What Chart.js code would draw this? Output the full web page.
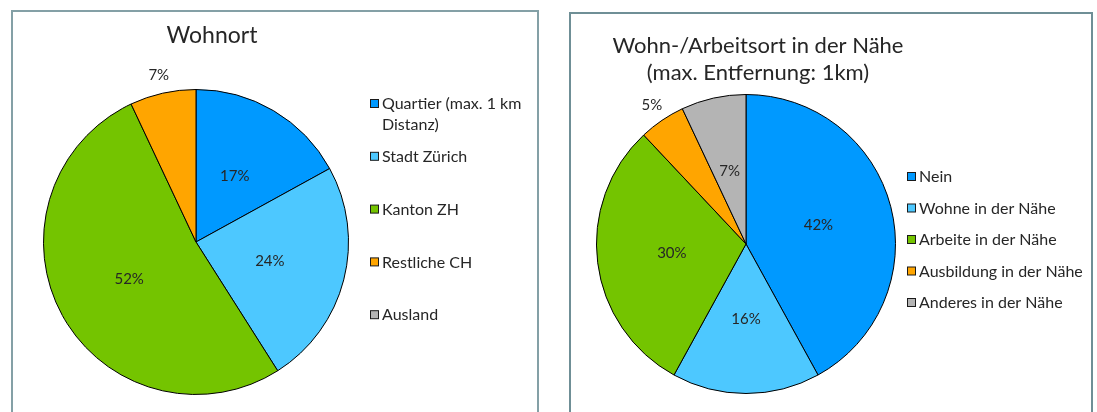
<!DOCTYPE html>
<html>
<head>
<meta charset="utf-8">
<script src="https://cdn.jsdelivr.net/npm/chart.js@4.4.0/dist/chart.umd.min.js"></script>
<style>
  body { margin: 0; background: #fff; width: 1097px; height: 412px; overflow: hidden; position: relative; }
  .panel { position: absolute; border: 2px solid #84a0a6; box-sizing: border-box; }
  #p1 { left: 11px; top: 10px; width: 528px; height: 420px; }
  #p2 { left: 569px; top: 12px; width: 524px; height: 420px; border-color: #6f8f96; }
  .box { position: absolute; top: 0; }
  #b1 { left: 0; width: 555px; height: 412px; }
  #b2 { left: 555px; width: 542px; height: 412px; }
</style>
</head>
<body>
<div class="panel" id="p1"></div>
<div class="panel" id="p2"></div>
<div class="box" id="b1"><canvas id="wohnort" width="555" height="412"></canvas></div>
<div class="box" id="b2"><canvas id="naehe" width="542" height="412"></canvas></div>

<script>
// --- data ---
const wohnortLabels = [['Quartier (max. 1 km', 'Distanz)'], 'Stadt Zürich', 'Kanton ZH', 'Restliche CH', 'Ausland'];
const wohnortValues = [17, 24, 52, 7, 0];

const naeheLabels = ['Nein', 'Wohne in der Nähe', 'Arbeite in der Nähe', 'Ausbildung in der Nähe', 'Anderes in der Nähe'];
const naeheValues = [42, 16, 30, 5, 7];

const sliceColors = ['#0099ff', '#4dc8ff', '#74c400', '#ffa500', '#b4b4b4'];

const fontFamily = "Lato, 'Open Sans', sans-serif";
const textColor = '#262626';

// Draws title, percentage labels and legend in the Excel style
const excelPie = {
  id: 'excelPie',
  afterDraw(chart, args, opts) {
    const ctx = chart.ctx;
    const meta = chart.getDatasetMeta(0);
    const values = chart.data.datasets[0].data;
    const total = values.reduce((a, b) => a + b, 0);
    ctx.save();
    ctx.fillStyle = textColor;
    ctx.textAlign = 'center';
    ctx.textBaseline = 'alphabetic';

    // title
    ctx.font = `${opts.titleSize}px ${fontFamily}`;
    opts.title.forEach((line, i) => ctx.fillText(line, opts.titleX, opts.titleY + i * opts.titleLine));

    // percentage labels
    ctx.font = `15px ${fontFamily}`;
    ctx.textBaseline = 'middle';
    meta.data.forEach((arc, i) => {
      const v = values[i];
      if (!v) return;
      const mid = (arc.startAngle + arc.endAngle) / 2;
      const f = v <= opts.outsideMax ? 1.12 : 0.5;
      const x = arc.x + Math.cos(mid) * arc.outerRadius * f;
      const y = arc.y + Math.sin(mid) * arc.outerRadius * f;
      ctx.fillText(Math.round(v / total * 100) + '%', x, y);
    });

    // legend
    ctx.textAlign = 'left';
    ctx.font = `16px ${fontFamily}`;
    let y = opts.legendY;
    chart.data.labels.forEach((lbl, i) => {
      const lines = Array.isArray(lbl) ? lbl : [lbl];
      ctx.fillStyle = sliceColors[i];
      ctx.fillRect(opts.legendX + 0.5, y - 4.5, 8, 8);
      ctx.strokeStyle = '#1a1a1a';
      ctx.lineWidth = 1;
      ctx.strokeRect(opts.legendX + 0.5, y - 4.5, 8, 8);
      ctx.fillStyle = textColor;
      lines.forEach((ln, k) => ctx.fillText(ln, opts.legendX + 12, y + k * 21));
      y += opts.legendStep;
    });
    ctx.restore();
  }
};

function makePie(canvas, labels, values, padding, pluginOpts) {
  return new Chart(canvas, {
    type: 'pie',
    data: {
      labels: labels,
      datasets: [{
        data: values,
        backgroundColor: sliceColors,
        borderColor: '#000',
        borderWidth: 1
      }]
    },
    options: {
      responsive: false,
      animation: false,
      layout: { padding: padding },
      plugins: {
        legend: { display: false },
        tooltip: { enabled: false },
        excelPie: pluginOpts
      }
    },
    plugins: [excelPie]
  });
}

makePie(document.getElementById('wohnort'), wohnortLabels, wohnortValues,
  { left: 43, top: 89, right: 206, bottom: 17 },
  {
    title: ['Wohnort'], titleSize: 23, titleX: 212, titleY: 43, titleLine: 0,
    outsideMax: 7,
    legendX: 370, legendY: 104, legendStep: 52.8
  });

makePie(document.getElementById('naehe'), naeheLabels, naeheValues,
  { left: 41, top: 94, right: 201, bottom: 18 },
  {
    title: ['Wohn-/Arbeitsort in der Nähe', '(max. Entfernung: 1km)'], titleSize: 22, titleX: 203, titleY: 53, titleLine: 27,
    outsideMax: 5,
    legendX: 352, legendY: 177, legendStep: 31.5
  });
</script>
</body>
</html>
